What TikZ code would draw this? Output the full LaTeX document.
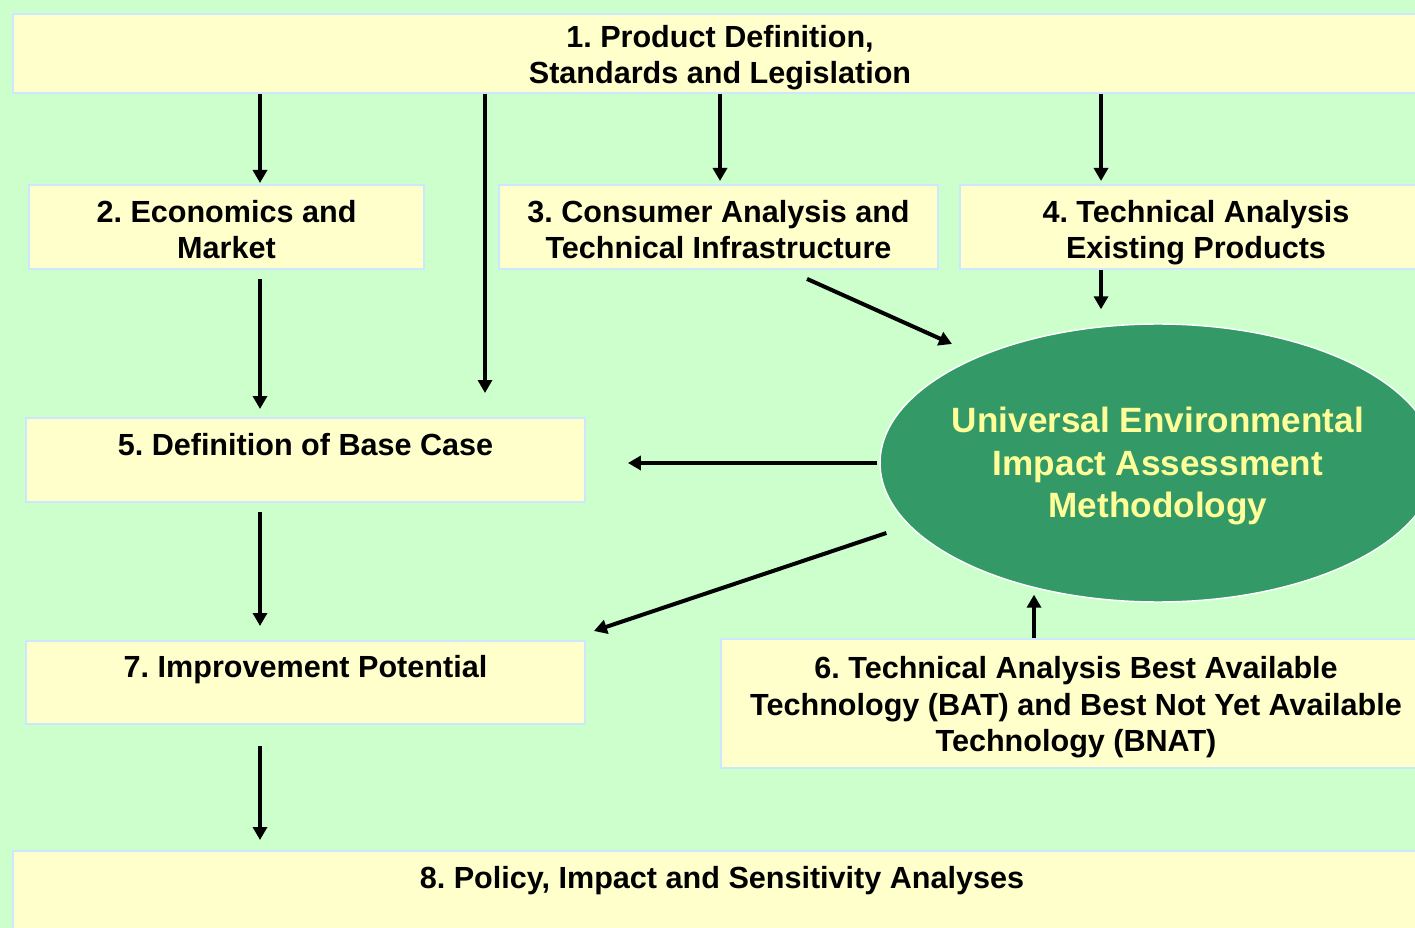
\documentclass[tikz,border=0pt]{standalone}
\usepackage{fontspec}
\setmainfont{Liberation Sans}
\frenchspacing
\usetikzlibrary{arrows.meta, calc, shapes.geometric, positioning}
\definecolor{bggreen}{HTML}{CCFFCC}
\definecolor{boxfill}{HTML}{FFFFCC}
\definecolor{boxline}{HTML}{CCE8FF}
\definecolor{ellgreen}{HTML}{339966}
\definecolor{elltext}{HTML}{FFFF99}

\begin{document}
\begin{tikzpicture}[x=0.02cm, y=-0.02cm, align=center]
\tikzstyle{box}=[rectangle, anchor=north, draw=boxline, line width=1.1pt, fill=boxfill, inner sep=0pt, font=\fontsize{17.4}{20.8}\selectfont\bfseries]
\tikzstyle{method}=[ellipse, draw=white, line width=0.8pt, fill=ellgreen, text=elltext, inner ysep=0pt, inner xsep=-0.3cm, minimum width=11.12cm, minimum height=5.56cm, text height=2.4cm, text depth=0.2cm, font=\fontsize{20}{24.2}\selectfont\bfseries]
\tikzstyle{flow}=[-{Triangle[width=0.28cm,length=0.26cm]}, line width=0.08cm]

\useasboundingbox (0,0) rectangle (1415,928);
\clip (0,0) rectangle (1415,928);
\fill[bggreen] (0,0) rectangle (1415,928);

% task boxes
\node[box, minimum width=28.28cm, text height=1.4cm, text depth=0.18cm] (b1) at (720,13) {1. Product Definition,\\Standards and Legislation};
\node[box, minimum width=7.9cm, text height=1.48cm, text depth=0.2cm] (b2) at (226.5,184) {2. Economics and\\Market};
\node[box, minimum width=8.78cm, text height=1.48cm, text depth=0.2cm] (b3) at (718.5,184) {3. Consumer Analysis and\\Technical Infrastructure};
\node[box, minimum width=9.44cm, text height=1.48cm, text depth=0.2cm] (b4) at (1196,184) {4. Technical Analysis\\Existing Products};
\node[box, minimum width=11.18cm, text height=0.76cm, text depth=0.92cm] (b5) at (305.5,417) {5. Definition of Base Case};
\node[box, minimum width=14.2cm, text height=2.26cm, text depth=0.32cm] (b6) at (1076,638) {6. Technical Analysis Best Available\\Technology (BAT) and Best Not Yet Available\\Technology (BNAT)};
\node[box, minimum width=11.18cm, text height=0.74cm, text depth=0.92cm] (b7) at (305.5,640) {7. Improvement Potential};
\node[box, minimum width=28.36cm, text height=0.76cm, text depth=1.04cm] (b8) at (722,850) {8. Policy, Impact and Sensitivity Analyses};

\node[method] (meth) at (1158,463) {Universal Environmental\\Impact Assessment\\Methodology};

% arrow columns
\coordinate (colA) at (260,0);
\coordinate (colB) at (485,0);
\coordinate (colC) at (720,0);
\coordinate (colD) at (1101,0);
\coordinate (colE) at (1034,0);

\path
  (b1.south -| colA) edge [flow, shorten >=0.02cm] (b2.north -| colA)
  (b1.south -| colB) edge [flow, shorten >=0.48cm] (b5.north -| colB)
  (b1.south -| colC) edge [flow, shorten >=0.06cm] (b3.north -| colC)
  (b1.south -| colD) edge [flow, shorten >=0.06cm] (b4.north -| colD)
  (b2.south -| colA) edge [flow, shorten <=0.18cm, shorten >=0.16cm] (b5.north -| colA)
  (b5.south -| colA) edge [flow, shorten <=0.18cm, shorten >=0.28cm] (b7.north -| colA)
  (b7.south -| colA) edge [flow, shorten <=0.42cm, shorten >=0.2cm] (b8.north -| colA)
  (b4.south -| colD) edge [flow, shorten >=0.28cm] (meth.north -| colD)
  (b6.north -| colE) edge [flow, shorten >=-0.16cm] (meth.south -| colE)
  (meth.west) edge [flow, shorten <=0.04cm, shorten >=0.84cm] (b5.east |- meth.west)
  ($(meth.west)+(7,70)$) edge [flow] ($(b7.north east)+(8,-9)$)
  ($(b3.south)+(88.5,9)$) edge [flow] ($(meth)+(-206,-119)$);
\end{tikzpicture}
\end{document}
